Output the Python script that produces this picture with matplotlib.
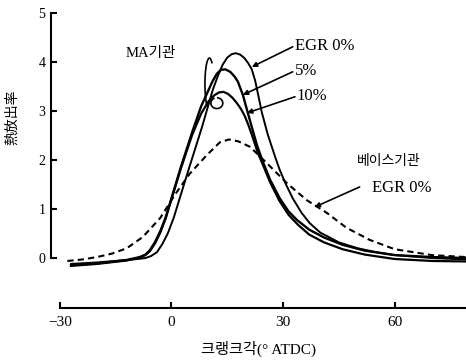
import matplotlib
matplotlib.use("Agg")
import matplotlib.pyplot as plt
from matplotlib.patches import Arc

plt.rcParams['font.family'] = ['Liberation Serif', 'Noto Sans CJK KR', 'DejaVu Sans']

# MA engine, EGR 0%
x_ma0 = [-27, -20, -12, -9, -7, -5.5, -3.9, -2.5, -1, 0.6, 2.3, 5, 8.2, 11.1, 12.5, 13.8, 15, 16.2,
         17.3, 18.5, 19.6, 20.6, 21.6, 22.5, 23.4, 24.3, 25.9, 27.8, 29.1, 30.8, 32.6, 35, 37.2,
         40, 45, 50, 55, 60, 70, 79]
y_ma0 = [-0.12, -0.09, -0.04, -0.02, 0.0, 0.04, 0.12, 0.28, 0.5, 0.82, 1.24, 1.9, 2.67, 3.43, 3.72, 3.95, 4.09, 4.16,
         4.18, 4.15, 4.08, 3.98, 3.85, 3.62, 3.3, 2.97, 2.52, 2.08, 1.8, 1.5, 1.22, 0.92, 0.71,
         0.52, 0.32, 0.2, 0.12, 0.06, 0.0, -0.03]

# MA engine, EGR 5%
x_ma5 = [-27, -20, -12, -8.5, -7, -5.8, -4.4, -3, -1.6, -0.4, 2.5, 5.75, 8, 9.8, 11, 12.2, 13.3, 14.5,
         15.8, 17, 17.85, 19.2, 20.5, 21.8, 23, 24.6, 26.5, 29.1, 31.5, 33.7, 37, 41, 46, 52, 60, 70, 79]
y_ma5 = [-0.15, -0.11, -0.04, 0.02, 0.07, 0.16, 0.33, 0.55, 0.82, 1.12, 1.85, 2.61, 3.1, 3.4, 3.6, 3.76, 3.84, 3.85,
         3.8, 3.7, 3.6, 3.33, 2.97, 2.62, 2.3, 1.96, 1.6, 1.22, 0.95, 0.78, 0.58, 0.42, 0.27, 0.15, 0.06, 0.02, 0.0]

# MA engine, EGR 10%
x_ma10 = [-27, -20, -12, -8.5, -7, -5.8, -4.4, -3, -1.6, -0.4, 2.5, 5.5, 8, 10, 11.5, 12.8, 14, 15.2,
          16.4, 17.6, 18.7, 19.7, 20.8, 21.9, 23.2, 24.6, 26.5, 29, 31.5, 34, 37, 41, 46, 52, 60, 70, 79]
y_ma10 = [-0.16, -0.12, -0.05, 0.01, 0.06, 0.14, 0.3, 0.52, 0.8, 1.1, 1.82, 2.5, 2.95, 3.2, 3.32, 3.38, 3.39, 3.35,
          3.27, 3.16, 3.04, 2.9, 2.69, 2.45, 2.15, 1.9, 1.55, 1.17, 0.88, 0.68, 0.48, 0.32, 0.18, 0.07, -0.02, -0.06, -0.07]

# base engine, EGR 0%
x_base = [-28, -24, -20, -16, -12, -7.7, -3, 1, 4.9, 9.5, 13, 15.5, 18, 21.1, 25.6,
          31, 36.4, 41.8, 47, 53.3, 60, 70, 79]
y_base = [-0.06, -0.03, 0.02, 0.09, 0.2, 0.43, 0.82, 1.3, 1.72, 2.1, 2.36, 2.42, 2.38, 2.27, 1.94,
          1.53, 1.18, 0.92, 0.62, 0.37, 0.18, 0.06, 0.02]

xticks = [-30, 0, 30, 60]
yticks = [0, 1, 2, 3, 4, 5]

fig = plt.figure(figsize=(4.66, 3.61), dpi=100)
ax = fig.add_axes([0.1094, 0.1468, 0.8906, 0.8172])
ax.set_xlim(-32.4, 79.2)
ax.set_ylim(-1.02, 5.0)

ax.plot(x_ma0, y_ma0, color='black', lw=1.4)
ax.plot(x_ma5, y_ma5, color='black', lw=1.7)
ax.plot(x_ma10, y_ma10, color='black', lw=1.6)
ax.plot(x_base, y_base, color='black', lw=1.5, dashes=(3, 2))

# curl marks grouping the MA curves
ax.add_patch(Arc((10.2, 3.55), 2.4, 1.06, theta1=30, theta2=215, color='black', lw=1.2))
ax.add_patch(Arc((12.2, 3.16), 3.2, 0.22, theta1=170, theta2=430, color='black', lw=1.2))

for s in ['top', 'right']:
    ax.spines[s].set_visible(False)
ax.spines['left'].set_bounds(0, 5)
ax.spines['bottom'].set_bounds(-30, 79.2)
ax.spines['left'].set_linewidth(1.5)
ax.spines['bottom'].set_linewidth(1.5)

ax.set_xticks(xticks)
ax.set_yticks(yticks)
ax.tick_params(axis='both', direction='in', length=4, width=1.5, colors='black')
ax.tick_params(axis='x', labelsize=11, pad=6)
ax.tick_params(axis='y', labelsize=10, pad=4)

ax.set_xlabel('크랭크각(° ATDC)', fontsize=11, labelpad=8)
ax.set_ylabel('熱放出率', fontsize=10, family=['Noto Sans CJK KR'])
ax.yaxis.set_label_coords(-0.076, 0.645)

arrow = dict(arrowstyle='-|>', color='black', lw=1.2, mutation_scale=7, shrinkA=0, shrinkB=0)
ax.text(-5.5, 4.18, 'MA기관', fontsize=10.5, ha='center', va='center')
ax.annotate('', xy=(21.6, 3.9), xytext=(32.6, 4.31), arrowprops=arrow)
ax.text(33.3, 4.33, 'EGR 0%', fontsize=12, ha='left', va='center')
ax.annotate('', xy=(19.2, 3.33), xytext=(32.6, 3.8), arrowprops=arrow)
ax.text(33.3, 3.82, '5%', fontsize=12, ha='left', va='center')
ax.annotate('', xy=(20.3, 2.96), xytext=(33.2, 3.29), arrowprops=arrow)
ax.text(33.6, 3.31, '10%', fontsize=12, ha='left', va='center')

ax.text(58.4, 1.96, '베이스기관', fontsize=10, ha='center', va='center')
ax.annotate('', xy=(38.5, 1.04), xytext=(50.6, 1.45), arrowprops=arrow)
ax.text(61.9, 1.43, 'EGR 0%', fontsize=12, ha='center', va='center')

fig.savefig('out.png', dpi=100)
